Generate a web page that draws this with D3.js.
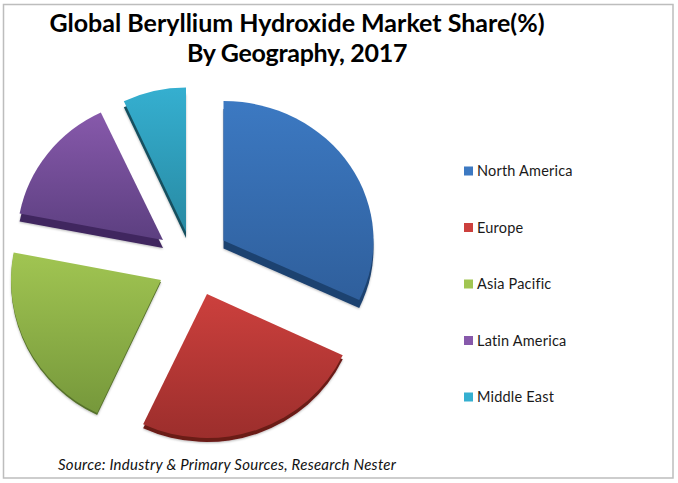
<!DOCTYPE html>
<html><head><meta charset="utf-8">
<script src="https://cdn.jsdelivr.net/npm/d3@7/dist/d3.min.js"></script>
<style>html,body{margin:0;padding:0;background:#fff}svg{display:block}</style>
</head><body><svg id="c" width="678" height="483"></svg>
<script>
const categories = ["North America","Europe","Asia Pacific","Latin America","Middle East"];
const shares = [32,25,21,15,7];
const titleLines = ["Global Beryllium Hydroxide Market Share(%)","By Geography, 2017"];
const sourceText = "Source: Industry & Primary Sources, Research Nester";
const topColors = ["#3c79c2","#cc403d","#a1c552","#8759ab","#35afd0"];
const bottomColors = ["#2f5f9c","#9c2e2c","#76983b","#5c3f80","#288aa3"];
const wallColors = ["#1f4270","#6b1a19","#55702a","#40285f","#14505f"];
const pullX = [33.5,17,-29,-27,-4];
const pullY = [-21.5,32,18,-22,-30];
const radii = [150,150,150,146,146];
const flats = [0.93,0.96,0.98,0.965,0.99];
const wallDepth = [8,4,2,8,6];

const svg = d3.select("#c");
const cx=190, cy=262;
const defs = svg.append("defs");
categories.forEach((c,i)=>{
  const g=defs.append("linearGradient").attr("id","g"+i).attr("x1",0).attr("y1",0).attr("x2",0).attr("y2",1);
  g.append("stop").attr("offset",0).attr("stop-color",topColors[i]);
  g.append("stop").attr("offset",1).attr("stop-color",bottomColors[i]);
});
const f=defs.append("filter").attr("id","sh").attr("x","-10%").attr("y","-10%").attr("width","120%").attr("height","120%");
f.append("feDropShadow").attr("dx",0).attr("dy",1).attr("stdDeviation",1.2).attr("flood-color","#000").attr("flood-opacity",0.28);

svg.append("rect").attr("x",3.5).attr("y",4.5).attr("width",669.5).attr("height",473.5)
  .attr("fill","#fff").attr("stroke","#bdbdbd").attr("stroke-width",1.5);

const pie=d3.pie().value(d=>d).sort(null);
const arc=d3.arc().innerRadius(0).outerRadius((d,i)=>radii[d.index]);
const arcs=pie(shares);
const sl=svg.selectAll("g.s").data(arcs).join("g").attr("class","s")
  .attr("transform",(d,i)=>`translate(${cx+pullX[i]},${cy+pullY[i]})`);
sl.append("path").attr("d",arc).attr("fill",(d,i)=>wallColors[i])
  .attr("transform",(d,i)=>`translate(0,${wallDepth[i]}) scale(1,${flats[i]})`).attr("filter","url(#sh)");
sl.append("path").attr("d",arc).attr("fill",(d,i)=>`url(#g${i})`)
  .attr("transform",(d,i)=>`scale(1,${flats[i]})`);

const title=svg.append("text").attr("text-anchor","middle").attr("font-family","Lato, Carlito, sans-serif")
  .attr("font-weight",700).attr("font-size",25).attr("fill","#000");
titleLines.forEach((t,i)=>title.append("tspan").attr("x",297).attr("y",32+i*30)
  .attr("letter-spacing",i?-0.3:0).text(t));

const legY=d3.scalePoint().domain(categories).range([171,397]);
const lg=svg.selectAll("g.l").data(categories).join("g").attr("class","l")
  .attr("transform",d=>`translate(464,${legY(d)})`);
lg.append("rect").attr("x",0).attr("y",-4.5).attr("width",9).attr("height",9).attr("fill",(d,i)=>topColors[i]);
lg.append("text").attr("x",13).attr("y",5).attr("font-family","Lato, Carlito, sans-serif").attr("font-size",14.5)
  .attr("letter-spacing",0.2).attr("fill","#1a1a1a").text(d=>d);

svg.append("text").attr("x",58).attr("y",470).attr("font-family","Lato, Carlito, sans-serif").attr("font-style","italic")
  .attr("font-size",15).attr("letter-spacing",0.27).attr("fill","#111").text(sourceText);
</script></body></html>
